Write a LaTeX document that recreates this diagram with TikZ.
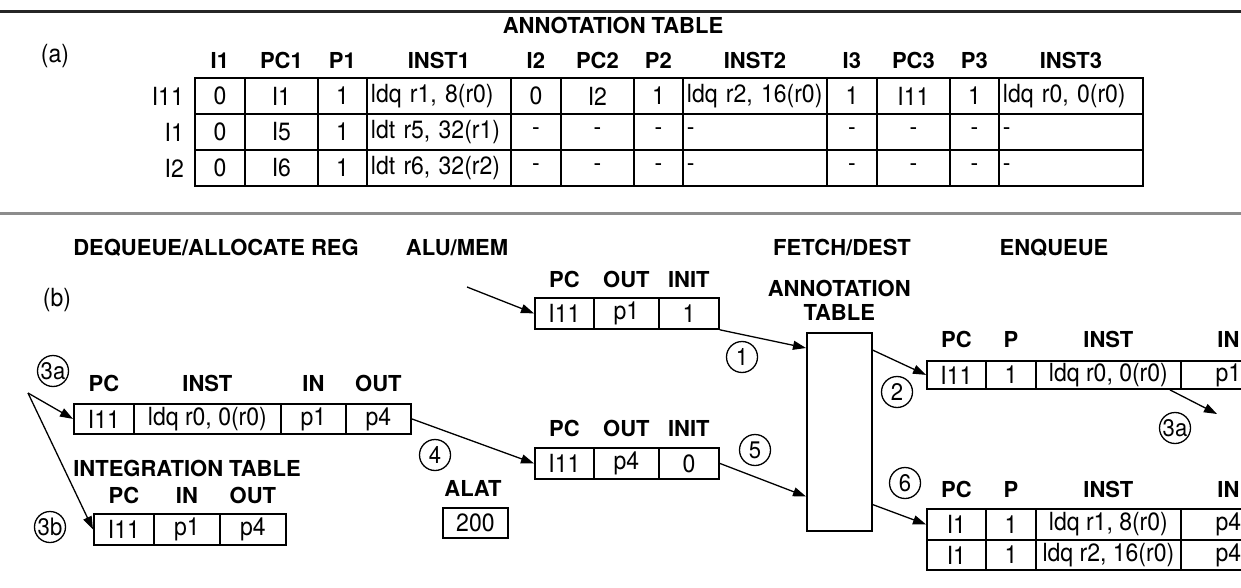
\documentclass[tikz,border=0pt]{standalone}
\usepackage{fontspec}
\setmainfont{TeX Gyre Heros}
\newfontfamily\cellfont{TeX Gyre Heros}[FakeStretch=0.92]
\usetikzlibrary{arrows.meta,positioning}

\tikzset{
  tab/.style={draw, line width=1.8pt, anchor=north west, inner xsep=4pt, inner ysep=0pt,
    font=\cellfont\fontsize{25}{27}\selectfont},
  hdr/.style={inner sep=0pt, font=\bfseries\fontsize{22}{24}\selectfont},
  ttl/.style={inner sep=0pt, font=\bfseries\fontsize{22}{24}\selectfont},
  lbl/.style={inner sep=0pt, font=\cellfont\fontsize{25}{27}\selectfont},
  stp/.style={draw, circle, line width=1.3pt, inner sep=0pt, minimum size=31pt,
    font=\cellfont\fontsize{24}{26}\selectfont},
  flow/.style={line width=1.3pt, -{Triangle[length=13pt,width=9pt]}},
}

\begin{document}
\begin{tikzpicture}[x=1pt,y=-1pt]
  \useasboundingbox (0,0) rectangle (1241,588);
  % rules
  \draw[line width=3pt, black!85] (0,12) -- (1241,12);
  \draw[line width=3pt, black!45] (0,213) -- (1241,213);

  % (a) annotation table
  \node[ttl] (atitle) at (613,25) {ANNOTATION TABLE};
  \node[lbl] (pa) at (55,56) {(a)};
  \foreach \x/\w/\al/\h/\va/\vb/\vc [count=\c] in {
    194/50/center/I1/0/0/0,
    244/73/center/PC1/I1/I5/I6,
    317/49/center/P1/1/1/1,
    366/144/left/INST1/{ldq r1, 8(r0)}/{ldt r5, 32(r1)}/{ldt r6, 32(r2)},
    510/50/center/I2/0/-/-,
    560/73/center/PC2/I2/-/-,
    633/49/center/P2/1/-/-,
    682/144/left/INST2/{ldq r2, 16(r0)}/-/-,
    826/50/center/I3/1/-/-,
    876/73/center/PC3/I11/-/-,
    949/49/center/P3/1/-/-,
    998/144/left/INST3/{ldq r0, 0(r0)}/-/-}{
    \pgfmathsetmacro\tw{\w-8}
    \node[tab, text width=\tw pt, align=\al, minimum height=36pt] (t1-\c) at (\x,77) {\va};
    \node[tab, text width=\tw pt, align=\al, minimum height=36pt] (t2-\c) at (\x,113) {\vb};
    \node[tab, text width=\tw pt, align=\al, minimum height=36pt] (t3-\c) at (\x,149) {\vc};
    \node[hdr, above=8pt of t1-\c] (th\c) {\h};
  }
  \foreach \lab [count=\r] in {I11,I1,I2}
    \node[lbl, left=10pt of t\r-1] (rl\r) {\lab};

  % (b) stage titles
  \node[ttl] (sdq) at (216,248) {DEQUEUE/ALLOCATE REG};
  \node[ttl] (salu) at (457,248) {ALU/MEM};
  \node[ttl] (sfd) at (842,248) {FETCH/DEST};
  \node[ttl] (senq) at (1054,248) {ENQUEUE};
  \node[lbl] (pb) at (57,300) {(b)};

  % alu/mem results
  \foreach \x/\w/\h/\va/\vb [count=\c] in {534/59/PC/I11/I11, 593/65/OUT/p1/p4, 658/60/INIT/1/0}{
    \node[tab, minimum width=\w pt, minimum height=31pt] (u1-\c) at (\x,297) {\va};
    \node[hdr, above=9pt of u1-\c] (uh1-\c) {\h};
    \node[tab, minimum width=\w pt, minimum height=31pt] (u2-\c) at (\x,447) {\vb};
    \node[hdr, above=10pt of u2-\c] (uh2-\c) {\h};
  }

  % dequeued entry
  \foreach \x/\w/\h/\v [count=\c] in {73/60/PC/I11, 133/147/INST/{ldq r0, 0(r0)}, 280/65/IN/p1, 345/65/OUT/p4}{
    \node[tab, minimum width=\w pt, minimum height=30pt] (d-\c) at (\x,403) {\v};
    \node[hdr, above=11pt of d-\c] (dh-\c) {\h};
  }

  % integration table
  \node[ttl] (itl) at (187,468) {INTEGRATION TABLE};
  \foreach \x/\w/\h/\v [count=\c] in {93/60/PC/I11, 153/66/IN/p1, 219/66/OUT/p4}{
    \node[tab, minimum width=\w pt, minimum height=31pt] (g-\c) at (\x,513) {\v};
    \node[hdr, above=9pt of g-\c] (gh-\c) {\h};
  }

  % alat
  \node[hdr] (alatl) at (473,488) {ALAT};
  \node[tab, minimum width=65pt, minimum height=30pt] (alat) at (442,507) {200};

  % annotation table box
  \node[draw, line width=1.5pt, minimum width=65pt, minimum height=198pt, inner sep=0pt,
    anchor=north west] (atab) at (806,332) {};
  \node[ttl, align=center, above=11pt of atab] (atabl) {ANNOTATION\\TABLE};

  % enqueued entries
  \foreach \x/\w/\h/\va/\vb/\vc [count=\c] in {926/59/PC/I11/I1/I1, 985/50/P/1/1/1,
      1035/145/INST/{ldq r0, 0(r0)}/{ldq r1, 8(r0)}/{ldq r2, 16(r0)}, 1180/95/IN/p1/p4/p4}{
    \node[tab, minimum width=\w pt, minimum height=28pt] (e1-\c) at (\x,360) {\va};
    \node[hdr, above=12pt of e1-\c] (eh-\c) {\h};
    \node[tab, minimum width=\w pt, minimum height=31pt] (f1-\c) at (\x,508) {\vb};
    \node[tab, minimum width=\w pt, minimum height=30pt] (f2-\c) at (\x,539) {\vc};
    \node[hdr, above=10pt of f1-\c] (fh-\c) {\h};
  }

  % steps
  \coordinate (aluin) at (467,287);
  \draw[flow] (aluin) -- (u1-1.west);
  \draw[flow] (u1-3.south east) -- ([yshift=-16pt]atab.north west);
  \node[stp] (s1) at (742,357) {1};
  \draw[flow] ([yshift=-18pt]atab.north east) -- (e1-1.west);
  \node[stp] (s2) at (897,392) {2};
  \coordinate (q3a) at (1217,414);
  \draw[flow] ([xshift=-12pt]e1-3.south east) -- (q3a);
  \node[stp] (s3r) at (1175,428) {3a};
  \coordinate (src3) at (28,393);
  \draw[flow] (src3) -- (d-1.west);
  \draw[flow] (src3) -- (g-1.west);
  \node[stp] (s3a) at (53,371) {3a};
  \node[stp] (s3b) at (50,527) {3b};
  \draw[flow] (d-4.east) -- (u2-1.west);
  \node[stp] (s4) at (435,455) {4};
  \draw[flow] (u2-3.east) -- ([yshift=35pt]atab.south west);
  \node[stp] (s5) at (755,450) {5};
  \draw[flow] ([yshift=27pt]atab.south east) -- (f1-1.west);
  \node[stp] (s6) at (905,483) {6};
\end{tikzpicture}
\end{document}
